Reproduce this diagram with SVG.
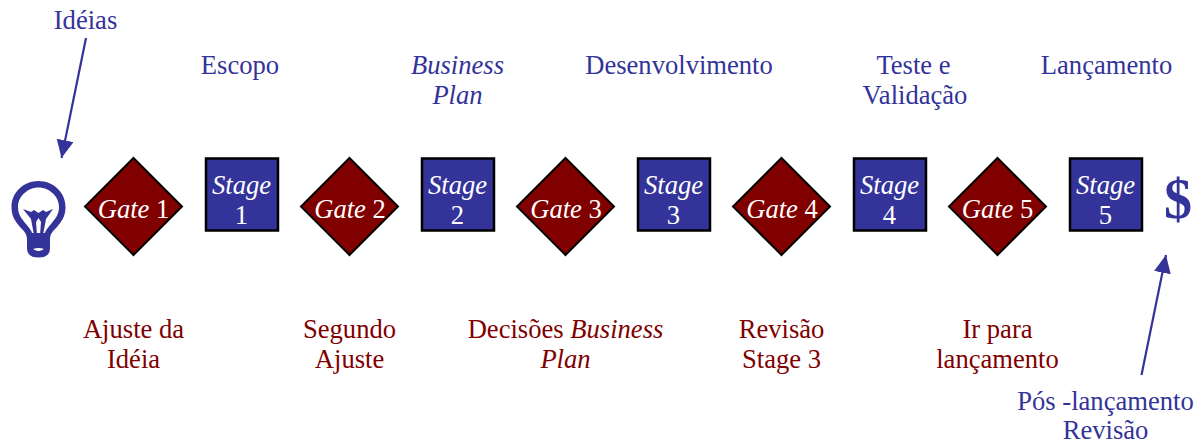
<svg xmlns="http://www.w3.org/2000/svg" width="1203" height="443" viewBox="0 0 1203 443">
<style>
text{font-family:"Liberation Serif","Times New Roman",serif;font-size:26.600px;text-anchor:middle}
.b{fill:#333399}.r{fill:#800000}.w{fill:#fff}
.st{fill:#333399;stroke:#000;stroke-width:2.5}
.gt{fill:#800000;stroke:#000;stroke-width:2}
.i{font-style:italic}
.c{stroke:#333399;stroke-width:2.200;fill:none;marker-end:url(#a)}
</style>
<defs>
<marker id="a" markerUnits="userSpaceOnUse" markerWidth="20" markerHeight="20" refX="18" refY="8.500" orient="auto"><path d="M0 0L18 8.500L0 17Z" fill="#333399"/></marker>
<g id="gd"><path class="gt" d="M0-48.500L48.500 0L0 48.500L-48.500 0Z"/></g>
</defs>
<rect width="1203" height="443" fill="#fff"/>
<g id="connectors">
<line class="c" x1="86" y1="38" x2="61.500" y2="158"/>
<line class="c" x1="1141.500" y1="375" x2="1166" y2="255"/>
</g>
<g id="bulb">
<path d="M38.500 181C24 181 11.500 192 11.500 207C11.500 217 16 222 20 227C25 232 27 234 27 240L50 240C50 234 52 232 57 227C61 222 65.500 217 65.500 207C65.500 192 53 181 38.500 181ZM38.500 187.500C49 187.500 59 196 59 207C59 215 55 219 51 224C47 229 45 231 44.500 235L32.500 235C32 231 30 229 26 224C22 219 18 215 18 207C18 196 28 187.500 38.500 187.500Z" fill="#333399" fill-rule="evenodd"/>
<path d="M23 209L31 212L34 210L38.500 213L43 210L46 212L53 209L46 219L43 235L40 235L41 222L38.500 218L36 222L37 235L34 235L31 219Z" fill="#333399"/>
<path d="M27 233L50 233L50 248Q50 257.500 38.500 257.500Q27 257.500 27 248Z" fill="#333399"/>
<path d="M33 249Q38.500 247 44 249Q38.500 253 33 249Z" fill="#fff"/>
</g>
<g id="gate1"><use href="#gd" x="133.500" y="206.500"/><text class="w" x="133.500" y="218"><tspan class="i">Gate </tspan>1</text></g>
<g id="gate2"><use href="#gd" x="349.500" y="206.500"/><text class="w" x="350" y="218"><tspan class="i">Gate </tspan>2</text></g>
<g id="gate3"><use href="#gd" x="565.500" y="206.500"/><text class="w" x="566" y="218"><tspan class="i">Gate </tspan>3</text></g>
<g id="gate4"><use href="#gd" x="781.500" y="206.500"/><text class="w" x="782" y="218"><tspan class="i">Gate </tspan>4</text></g>
<g id="gate5"><use href="#gd" x="997.500" y="206.500"/><text class="w" x="997.500" y="218"><tspan class="i">Gate </tspan>5</text></g>
<g id="stage1"><rect class="st" x="206" y="158.500" width="72" height="72"/><text class="w i" x="241.500" y="194">Stage</text><text class="w" x="241.500" y="224">1</text></g>
<g id="stage2"><rect class="st" x="422" y="158.500" width="72" height="72"/><text class="w i" x="457.500" y="194">Stage</text><text class="w" x="457.500" y="224">2</text></g>
<g id="stage3"><rect class="st" x="638" y="158.500" width="72" height="72"/><text class="w i" x="673.500" y="194">Stage</text><text class="w" x="673.500" y="224">3</text></g>
<g id="stage4"><rect class="st" x="854" y="158.500" width="72" height="72"/><text class="w i" x="889.500" y="194">Stage</text><text class="w" x="889.500" y="224">4</text></g>
<g id="stage5"><rect class="st" x="1070" y="158.500" width="72" height="72"/><text class="w i" x="1105.500" y="194">Stage</text><text class="w" x="1105.500" y="224">5</text></g>
<g id="labels-top">
<text class="b" x="85.500" y="29">Idéias</text>
<text class="b" x="240" y="74">Escopo</text>
<text class="b i" x="457.500" y="74">Business</text><text class="b i" x="457.500" y="104">Plan</text>
<text class="b" x="679" y="74">Desenvolvimento</text>
<text class="b" x="913.500" y="74">Teste e</text><text class="b" x="915" y="104">Validação</text>
<text class="b" x="1106.500" y="74">Lançamento</text>
<text class="b" x="1178" y="218" style="font-size:56px;font-weight:bold">$</text>
</g>
<g id="labels-bottom">
<text class="r" x="133.500" y="338">Ajuste da</text><text class="r" x="133.500" y="368">Idéia</text>
<text class="r" x="349.500" y="338">Segundo</text><text class="r" x="349.500" y="368">Ajuste</text>
<text class="r" x="565.500" y="338">Decisões <tspan class="i">Business</tspan></text><text class="r i" x="565.500" y="368">Plan</text>
<text class="r" x="781.500" y="338">Revisão</text><text class="r" x="781.500" y="368">Stage 3</text>
<text class="r" x="997.500" y="338">Ir para</text><text class="r" x="997.500" y="368">lançamento</text>
<text class="b" x="1105.500" y="409.500">Pós -lançamento</text><text class="b" x="1105.500" y="439">Revisão</text>
</g>
</svg>
